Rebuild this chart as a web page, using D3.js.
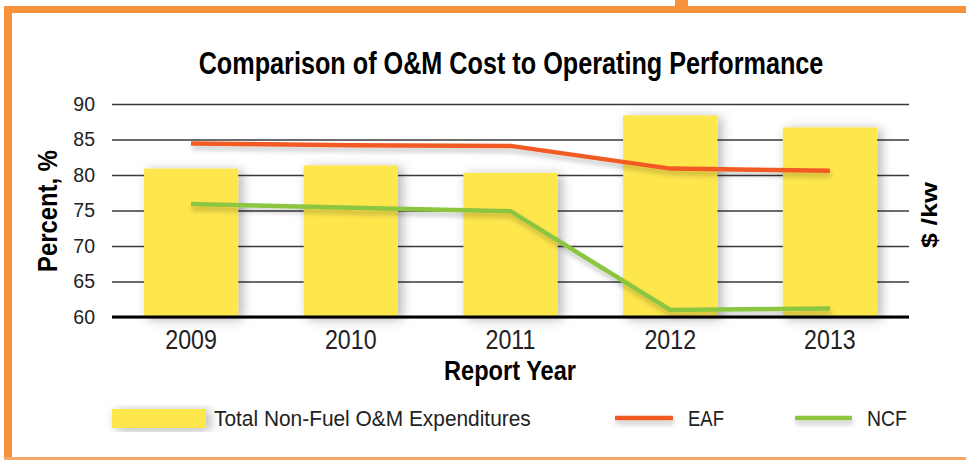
<!DOCTYPE html>
<html><head><meta charset="utf-8">
<script src="https://cdn.jsdelivr.net/npm/d3@7"></script>
<style>
html,body{margin:0;padding:0;background:#fff;}
svg{display:block;}
</style></head>
<body>
<svg id="chart" width="966" height="460"></svg>
<script>
// ---- data ----
const years = ["2009","2010","2011","2012","2013"];
const omCost = [80.9, 81.35, 80.3, 88.4, 86.7];   // Total Non-Fuel O&M Expenditures (bars)
const eaf = [84.45, 84.2, 84.1, 80.9, 80.6];
const ncf = [75.9, 75.4, 74.9, 61.0, 61.2];
const yTicks = [60, 65, 70, 75, 80, 85, 90];
const titleText = "Comparison of O&M Cost to Operating Performance";
const legendLabels = ["Total Non-Fuel O&M Expenditures", "EAF", "NCF"];

const svg = d3.select("#chart");
const orange = "#F6923B";
const yellow = "#FEE64D";
const eafColor = "#F15A24";
const ncfColor = "#8CC63F";
const sans = "'Liberation Sans', Arial, Helvetica, sans-serif";

const defs = svg.append("defs");
const f1 = defs.append("filter").attr("id","barShadow").attr("x","-30%").attr("y","-20%").attr("width","170%").attr("height","140%");
f1.append("feDropShadow").attr("dx",4).attr("dy",2).attr("stdDeviation",6).attr("flood-color","#000").attr("flood-opacity",0.3);
const f2 = defs.append("filter").attr("id","lineShadow").attr("filterUnits","userSpaceOnUse")
  .attr("x",0).attr("y",0).attr("width",966).attr("height",460);
f2.append("feDropShadow").attr("dx",1).attr("dy",4).attr("stdDeviation",2.5).attr("flood-color","#000").attr("flood-opacity",0.22);

// helper: draw text condensed horizontally to a target width
function fitText(parent, str, cx, cy, targetW, opts) {
  const g = parent.append("g");
  const t = g.append("text").attr("x",0).attr("y",0)
    .attr("text-anchor", opts.anchor || "middle")
    .attr("font-family", sans).attr("font-size", opts.size)
    .attr("font-weight", opts.weight || "normal").attr("fill", opts.fill || "#000").text(str);
  const w = t.node().getComputedTextLength();
  const s = targetW / w;
  g.attr("transform", `translate(${cx},${cy}) ${opts.rotate ? "rotate(" + opts.rotate + ")" : ""} scale(${s},1)`);
  return g;
}

// ---- frame ----
svg.append("rect").attr("x",4).attr("y",6).attr("width",962).attr("height",7).attr("fill",orange);
svg.append("rect").attr("x",4).attr("y",6).attr("width",8).attr("height",454).attr("fill",orange);
svg.append("rect").attr("x",675).attr("y",0).attr("width",13).attr("height",8).attr("fill",orange);
svg.append("rect").attr("x",4).attr("y",457).attr("width",962).attr("height",3).attr("fill","#F7A868");

// ---- scales ----
const x0 = 112, x1 = 909, yTop = 104, yBot = 317;
const x = d3.scaleBand().domain(years).range([x0, x1]).paddingInner(0.41).paddingOuter(0.2);
const y = d3.scaleLinear().domain([60, 90]).range([yBot, yTop]);

// gridlines + left tick labels
const yAxis = d3.axisLeft(y).tickValues(yTicks).tickSize(-(x1 - x0)).tickPadding(17).tickFormat(d3.format("d"));
const gy = svg.append("g").attr("transform",`translate(${x0},0)`).call(yAxis);
gy.select(".domain").remove();
gy.selectAll(".tick line").attr("stroke","#3a3a3a").attr("stroke-width",1.6);
gy.selectAll(".tick text").attr("font-family",sans).attr("font-size",19.5).attr("fill","#222");

// bars
svg.append("g").selectAll("rect").data(years).join("rect")
  .attr("x", d => x(d)).attr("width", x.bandwidth())
  .attr("y", (d,i) => y(omCost[i])).attr("height", (d,i) => yBot - y(omCost[i]))
  .attr("fill", yellow).attr("filter","url(#barShadow)");

// baseline axis
const xAxis = d3.axisBottom(x).tickSize(0).tickPadding(13);
const gx = svg.append("g").attr("transform",`translate(0,${yBot})`).call(xAxis);
gx.select(".domain").attr("stroke","#000").attr("stroke-width",3.2).attr("d",`M${x0},0H${x1}`);
gx.selectAll(".tick text").attr("font-family",sans).attr("font-size",27).attr("fill","#222")
  .attr("transform","scale(0.86,1)");

// lines
const line = d3.line().x((d,i) => x(years[i]) + x.bandwidth()/2).y(d => y(d));
svg.append("path").datum(ncf).attr("d", line).attr("fill","none").attr("stroke",ncfColor).attr("stroke-width",4.5).attr("filter","url(#lineShadow)");
svg.append("path").datum(eaf).attr("d", line).attr("fill","none").attr("stroke",eafColor).attr("stroke-width",4.5).attr("filter","url(#lineShadow)");

// title
fitText(svg, titleText, 511, 74, 625, {size:32, weight:"bold"});

// axis titles
fitText(svg, "Report Year", 510, 380, 132, {size:27, weight:"bold"});
fitText(svg, "Percent, %", 57, 211, 122, {size:28, weight:"bold", rotate:-90});
fitText(svg, "$ /kw", 937, 215, 66, {size:23, weight:"bold", rotate:-90});

// legend
const lg = svg.append("g");
lg.append("rect").attr("x",112).attr("y",409).attr("width",94).attr("height",19).attr("fill",yellow).attr("filter","url(#barShadow)");
fitText(lg, legendLabels[0], 214, 426, 317, {size:22, anchor:"start", fill:"#222"});
lg.append("line").attr("x1",615).attr("x2",673).attr("y1",418).attr("y2",418).attr("stroke",eafColor).attr("stroke-width",4.5).attr("filter","url(#lineShadow)");
fitText(lg, legendLabels[1], 688, 426, 36, {size:22, anchor:"start", fill:"#222"});
lg.append("line").attr("x1",795).attr("x2",852).attr("y1",418).attr("y2",418).attr("stroke",ncfColor).attr("stroke-width",4.5).attr("filter","url(#lineShadow)");
fitText(lg, legendLabels[2], 867, 426, 40, {size:22, anchor:"start", fill:"#222"});
</script>
</body></html>
